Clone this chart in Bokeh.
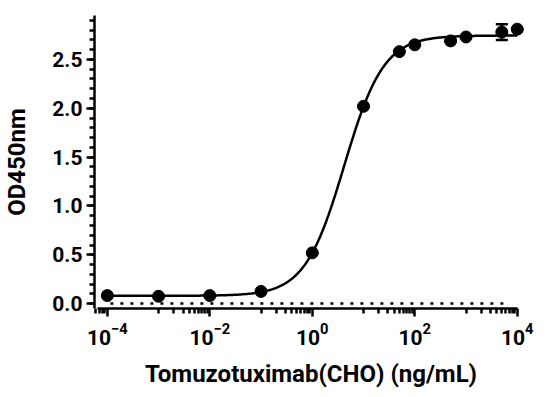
import numpy as np
from bokeh.plotting import figure
from bokeh.models import (FixedTicker, Whisker, ColumnDataSource, TeeHead,
                          PrintfTickFormatter, LogTickFormatter)
from bokeh.embed import file_html
from bokeh.resources import INLINE

# data
conc = [1e-4, 1e-3, 1e-2, 1e-1, 1, 10, 50, 100, 500, 1000, 5000, 10000]
od = [0.082, 0.075, 0.082, 0.125, 0.52, 2.02, 2.58, 2.65, 2.69, 2.73, 2.78, 2.81]
err = [0, 0, 0, 0, 0, 0, 0, 0, 0, 0, 0.08, 0]

# 4PL fit parameters (bottom, top, EC50, Hill)
fit_bottom, fit_top, fit_ec50, fit_hill = 0.08, 2.745, 4.2, 1.13

x_ticks = [1e-4, 1e-2, 1, 1e2, 1e4]
y_ticks = [0.0, 0.5, 1.0, 1.5, 2.0, 2.5]

FONT = "Roboto"

p = figure(width=540, height=390, x_axis_type="log",
           x_range=(10 ** -4.25, 10 ** 4.2), y_range=(-0.05, 2.95),
           output_backend="svg", toolbar_location=None,
           min_border_left=90, min_border_right=13, min_border_top=15,
           min_border_bottom=82)
p.outline_line_color = None
p.grid.visible = False
p.background_fill_color = "white"

# fitted curve
xs = np.logspace(-4, 4, 400)
ys = fit_bottom + (fit_top - fit_bottom) / (1 + (fit_ec50 / xs) ** fit_hill)
p.line(xs, ys, line_color="black", line_width=2.5)

# dotted baseline at 0
p.line([10 ** -3.94, 10 ** 3.77], [0, 0], line_color="black", line_width=2.5,
       line_dash="3 7")

src = ColumnDataSource(dict(x=conc, y=od,
                            lo=[v - e for v, e in zip(od, err)],
                            hi=[v + e for v, e in zip(od, err)]))
wh = Whisker(source=src, base="x", upper="hi", lower="lo",
             line_color="black", line_width=2.5,
             upper_head=TeeHead(size=12, line_width=2.5),
             lower_head=TeeHead(size=12, line_width=2.5))
p.add_layout(wh)
p.scatter("x", "y", source=src, size=12, color="black")

# x axis: majors every two decades, linear minors in between
xa = p.xaxis[0]
xa.ticker = FixedTicker(ticks=x_ticks,
                        minor_ticks=[m * 10.0 ** k for k in (-6, -4, -2, 0, 2)
                                     for m in range(10, 100, 10)])
xa.formatter = LogTickFormatter()
xa.bounds = (10 ** -4.19, 10 ** 4.0)
xa.axis_label = "Tomuzotuximab(CHO) (ng/mL)"

ya = p.yaxis[0]
ya.ticker = FixedTicker(ticks=y_ticks, minor_ticks=[round(i * 0.1, 2) for i in range(0, 30)])
ya.formatter = PrintfTickFormatter(format="%.1f")
ya.axis_label = "OD450nm"

for ax in (xa, ya):
    ax.axis_line_width = 2.5
    ax.axis_line_color = "black"
    ax.major_tick_line_width = 2.5
    ax.minor_tick_line_width = 2.5
    ax.major_tick_in = 0
    ax.minor_tick_in = 0
    ax.major_tick_out = 8
    ax.minor_tick_out = 5
    ax.major_label_text_font = FONT
    ax.major_label_text_font_style = "bold"
    ax.major_label_text_font_size = "21px"
    ax.major_label_text_color = "black"
    ax.axis_label_text_font = FONT
    ax.axis_label_text_font_style = "bold"
    ax.axis_label_text_font_size = "24px"
    ax.axis_label_text_color = "black"
ya.major_label_standoff = 4
xa.major_label_standoff = 6
xa.axis_label_standoff = 12
ya.axis_label_standoff = 18

open("out.html", "w").write(file_html(p, INLINE))
